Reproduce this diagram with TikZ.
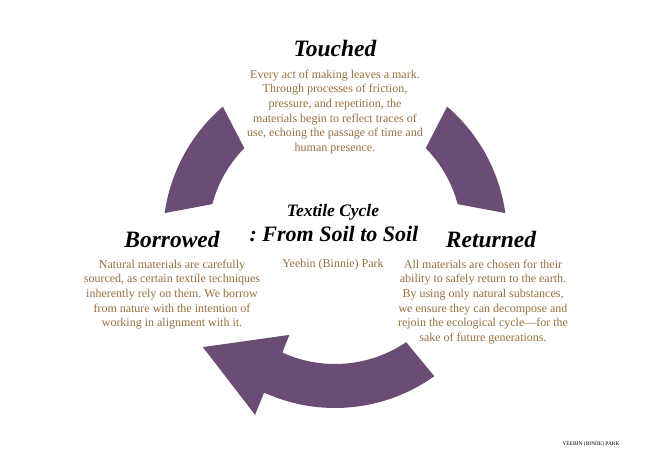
\documentclass[tikz,border=0pt]{standalone}
\usepackage{fontspec}
\setmainfont{Liberation Serif}
\usepackage{tikz}
\usetikzlibrary{positioning}
\definecolor{cyclepurple}{RGB}{107,76,117}
\definecolor{bodybrown}{RGB}{150,110,62}
\frenchspacing

\begin{document}
\begin{tikzpicture}[
        x=1pt, y=1pt,
        ttl/.style={font=\fontsize{23.5}{26}\selectfont\bfseries\itshape, text=black, inner sep=0pt, anchor=base},
        txt/.style={font=\fontsize{12}{14.7}\selectfont, text=bodybrown, align=center, inner sep=0pt},
        seg/.style={fill=cyclepurple, draw=none}
      ]
        \useasboundingbox (-335,-226) rectangle (321,237);
        % cycle pieces round the centre
        \fill[seg] (130.7:172) arc (130.7:172:172) -- (165:127) arc (165:135.6:127) -- cycle;
        \fill[seg] (49.3:172) arc (49.3:8:172) -- (15:127) arc (15:44.4:127) -- cycle;
        \fill[seg] (-54.5:171) arc (-54.5:-114.5:171) -- (-114.2:195) -- (-140.2:172)
          -- (-115:108) -- (-114.5:127) arc (-114.5:-55.9:127) -- cycle;
        % titles
        \node[ttl] (touched) at (0,180) {Touched};
        \node[ttl] (borrowed) at (-163,-10) {Borrowed};
        \node[ttl] (returned) at (156,-10) {Returned};
        \node[ttl, font=\fontsize{17.5}{20}\selectfont\bfseries\itshape] (cycle) at (-2,20) {Textile Cycle};
        \node[ttl, font=\fontsize{22}{24}\selectfont\bfseries\itshape] (soil) at (-1,-5) {: From Soil to Soil};
        % texts
        \node[txt, below=12pt of touched] (touchedtxt) {Every act of making leaves a mark.\\Through processes of friction,\\pressure, and repetition, the\\materials begin to reflect traces of\\use, echoing the passage of time and\\human presence.};
        \node[txt, below=12pt of borrowed] (borrowedtxt) {Natural materials are carefully\\sourced, as certain textile techniques\\inherently rely on them. We borrow\\from nature with the intention of\\working in alignment with it.};
        \node[txt, below=12pt of returned, xshift=-8pt] (returnedtxt) {All materials are chosen for their\\ability to safely return to the earth.\\By using only natural substances,\\we ensure they can decompose and\\rejoin the ecological cycle---for the\\sake of future generations.};
        \node[txt, anchor=base] (author) at (-2,-30) {Yeebin (Binnie) Park};
        \node[anchor=base, inner sep=0pt, font=\fontsize{5.5}{6}\selectfont] (footer) at (256,-208) {YEEBIN (BINIIE) PARK};
      \end{tikzpicture}
\end{document}
